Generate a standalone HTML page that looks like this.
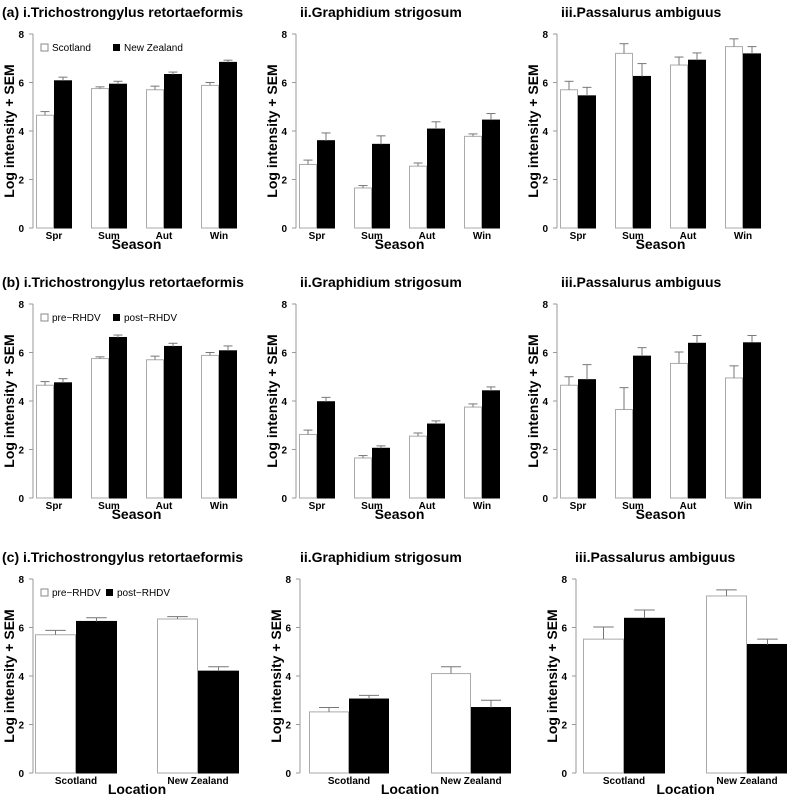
<!DOCTYPE html>
<html><head><meta charset="utf-8"><style>
body{margin:0;background:#fff}
svg{display:block;font-family:"Liberation Sans",Arial,sans-serif}
</style></head><body>
<svg id="c" width="787" height="794"></svg>
<script>
const seasons=["Spr","Sum","Aut","Win"];
const locations=["Scotland","New Zealand"];
const yTicks=[0,2,4,6,8];
const titles=["i.Trichostrongylus retortaeformis","ii.Graphidium strigosum","iii.Passalurus ambiguus"];
const r1aVals=[[4.65,5.75,5.7,5.88],[6.07,5.93,6.33,6.83]];
const r1aTops=[[4.8,5.82,5.85,6.0],[6.22,6.05,6.43,6.92]];
const r1bVals=[[2.62,1.65,2.55,3.78],[3.6,3.45,4.08,4.45]];
const r1bTops=[[2.8,1.75,2.68,3.88],[3.92,3.8,4.38,4.72]];
const r1cVals=[[5.7,7.2,6.72,7.48],[5.45,6.25,6.92,7.18]];
const r1cTops=[[6.05,7.6,7.05,7.8],[5.8,6.78,7.22,7.48]];
const r2aVals=[[4.65,5.75,5.7,5.88],[4.75,6.62,6.25,6.07]];
const r2aTops=[[4.8,5.82,5.85,6.0],[4.92,6.72,6.38,6.27]];
const r2bVals=[[2.62,1.65,2.55,3.75],[3.97,2.05,3.05,4.42]];
const r2bTops=[[2.8,1.75,2.68,3.88],[4.15,2.15,3.18,4.58]];
const r2cVals=[[4.65,3.65,5.55,4.95],[4.88,5.85,6.38,6.4]];
const r2cTops=[[5.0,4.55,6.02,5.45],[5.5,6.2,6.7,6.7]];
const r3aVals=[[5.7,6.35],[6.25,4.2]];
const r3aTops=[[5.88,6.45],[6.4,4.38]];
const r3bVals=[[2.52,4.1],[3.05,2.7]];
const r3bTops=[[2.7,4.38],[3.2,3.0]];
const r3cVals=[[5.52,7.3],[6.38,5.3]];
const r3cTops=[[6.02,7.55],[6.72,5.52]];

const S=document.getElementById('c');const NS="http://www.w3.org/2000/svg";
function mk(t,a,txt){const e=document.createElementNS(NS,t);for(const k in a)e.setAttribute(k,a[k]);if(txt!==undefined)e.textContent=txt;S.appendChild(e);return e;}

function panel(id,ax,y0,cats,vals,tops,first,period,bw,xlabel,title,tx,prefix,legend,lgap){
  const y8=y0-194;const ys=v=>y0-v*(y0-y8)/8;
  let e=mk('text',{x:tx,y:y8-17,'font-size':14,'font-weight':'bold'},(prefix||'')+title);
  
  e=mk('line',{x1:ax,y1:ys(0),x2:ax,y2:ys(8),stroke:'#999','stroke-width':1});
  
  yTicks.forEach(t=>{mk('line',{x1:ax-4,y1:ys(t),x2:ax,y2:ys(t),stroke:'#999'});
    e=mk('text',{x:ax-9,y:ys(t)+4,'font-size':10,'font-weight':'bold','text-anchor':'end'},t);
    });
  e=mk('text',{x:0,y:0,'font-size':14,'font-weight':'bold','text-anchor':'middle',transform:`translate(${ax-19},${(y0+y8)/2}) rotate(-90)`},'Log intensity + SEM');
  
  cats.forEach((c,i)=>{const gx=first+i*period;
    for(let s=0;s<2;s++){const x=gx+s*bw,v=vals[s][i],tp=tops[s][i];
      e=mk('rect',{x:x+0.5,y:ys(v),width:bw-1,height:ys(0)-ys(v),fill:s?'#000':'#fff',stroke:s?'#000':'#aaa','stroke-width':1});
      
      mk('line',{x1:x+bw/2,y1:ys(v),x2:x+bw/2,y2:ys(tp),stroke:'#777'});
      mk('line',{x1:x+bw/2-bw/4,y1:ys(tp),x2:x+bw/2+bw/4,y2:ys(tp),stroke:'#777'});}
    e=mk('text',{x:gx+bw,y:y0+11,'font-size':10,'font-weight':'bold','text-anchor':'middle'},c);
    });
  const mid=first+((cats.length-1)*period+2*bw)/2;
  e=mk('text',{x:mid,y:y0+21,'font-size':14,'font-weight':'bold','text-anchor':'middle'},xlabel);
  
  if(legend){const ly=y8+10;
    e=mk('rect',{x:ax+8,y:ly,width:7,height:7,fill:'#fff',stroke:'#888'});
    e=mk('text',{x:ax+19,y:ly+7,'font-size':10},legend[0]);
    e=mk('rect',{x:ax+lgap,y:ly,width:7,height:7,fill:'#000'});
    e=mk('text',{x:ax+lgap+11,y:ly+7,'font-size':10},legend[1]);}
}
const cols=[33,296,557];
panel('a1',cols[0],228,seasons,r1aVals,r1aTops,cols[0]+3,55,18,'Season',titles[0],2,'(a) ',['Scotland','New Zealand'],80);
panel('a2',cols[1],228,seasons,r1bVals,r1bTops,cols[1]+3,55,18,'Season',titles[1],cols[1]+4);
panel('a3',cols[2],228,seasons,r1cVals,r1cTops,cols[2]+3,55,18,'Season',titles[2],cols[2]+4);
panel('b1',cols[0],498,seasons,r2aVals,r2aTops,cols[0]+3,55,18,'Season',titles[0],2,'(b) ',['pre\u2212RHDV','post\u2212RHDV'],80);
panel('b2',cols[1],498,seasons,r2bVals,r2bTops,cols[1]+3,55,18,'Season',titles[1],cols[1]+4);
panel('b3',cols[2],498,seasons,r2cVals,r2cTops,cols[2]+3,55,18,'Season',titles[2],cols[2]+4);
panel('c1',33,773,locations,r3aVals,r3aTops,35,122,41,'Location',titles[0],2,'(c) ',['pre\u2212RHDV','post\u2212RHDV'],73);
panel('c2',300,773,locations,r3bVals,r3bTops,309,122,40,'Location',titles[1],300);
panel('c3',576,773,locations,r3cVals,r3cTops,583,123,41,'Location',titles[2],575);
</script></body></html>
